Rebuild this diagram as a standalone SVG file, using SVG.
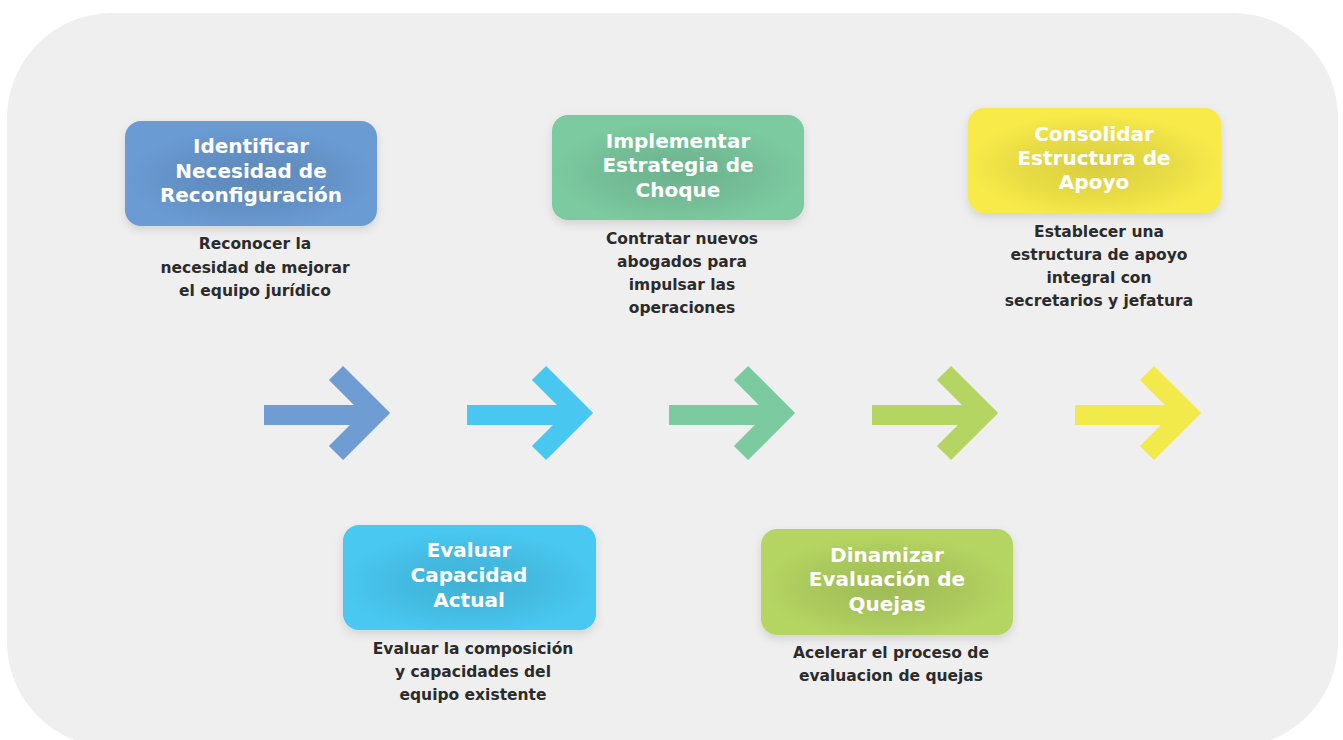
<svg xmlns="http://www.w3.org/2000/svg" width="1343" height="740" viewBox="0 0 1343 740">
<defs>
<style>
.t{font-family:"DejaVu Sans","Noto Sans",sans-serif;font-weight:700;font-size:20px;fill:#ffffff;text-anchor:middle}
.d{font-family:"DejaVu Sans","Noto Sans",sans-serif;font-weight:700;font-size:15.5px;fill:#2b2b2b;text-anchor:middle}
.arr{fill:none;stroke-width:20;stroke-linejoin:miter;stroke-linecap:butt}
</style>
<radialGradient id="shade" cx="0.5" cy="0.55" r="0.5">
<stop offset="0" stop-color="#000" stop-opacity="0.12"/>
<stop offset="0.6" stop-color="#000" stop-opacity="0.06"/>
<stop offset="1" stop-color="#000" stop-opacity="0"/>
</radialGradient>
<filter id="sh" x="-20%" y="-20%" width="140%" height="160%">
<feDropShadow dx="0" dy="4" stdDeviation="5" flood-color="#000" flood-opacity="0.12"/>
</filter>
</defs>
<rect x="0" y="0" width="1343" height="740" fill="#ffffff"/>
<rect x="7" y="13" width="1331" height="734" rx="105" ry="105" fill="#efefef"/>

<g id="connectors">
<g stroke="#6f9dd3"><path class="arr" d="M264,415 H368"/><path class="arr" d="M336,373 L376,413 L336,453"/></g>
<g stroke="#48c8f1"><path class="arr" d="M467,415 H571"/><path class="arr" d="M539,373 L579,413 L539,453"/></g>
<g stroke="#7ccba0"><path class="arr" d="M669,415 H773"/><path class="arr" d="M741,373 L781,413 L741,453"/></g>
<g stroke="#b5d562"><path class="arr" d="M872,415 H976"/><path class="arr" d="M944,373 L984,413 L944,453"/></g>
<g stroke="#f2ea4b"><path class="arr" d="M1075,415 H1179"/><path class="arr" d="M1147,373 L1187,413 L1147,453"/></g>
</g>

<g id="node1">
<rect x="125" y="121" width="252" height="105" rx="16" fill="#6b9bd3" filter="url(#sh)"/>
<rect x="125" y="121" width="252" height="105" rx="16" fill="url(#shade)"/>
<text class="t" x="251" y="153">Identificar</text>
<text class="t" x="251" y="178">Necesidad de</text>
<text class="t" x="251" y="202">Reconfiguración</text>
<text class="d" x="255" y="249">Reconocer la</text>
<text class="d" x="255" y="273">necesidad de mejorar</text>
<text class="d" x="255" y="296">el equipo jurídico</text>
</g>

<g id="node2">
<rect x="552" y="115" width="252" height="105" rx="16" fill="#7ccaa0" filter="url(#sh)"/>
<rect x="552" y="115" width="252" height="105" rx="16" fill="url(#shade)"/>
<text class="t" x="678" y="148">Implementar</text>
<text class="t" x="678" y="172">Estrategia de</text>
<text class="t" x="678" y="197">Choque</text>
<text class="d" x="682" y="244">Contratar nuevos</text>
<text class="d" x="682" y="267">abogados para</text>
<text class="d" x="682" y="290">impulsar las</text>
<text class="d" x="682" y="313">operaciones</text>
</g>

<g id="node3">
<rect x="968" y="108" width="253" height="105" rx="16" fill="#f7ea4a" filter="url(#sh)"/>
<rect x="968" y="108" width="253" height="105" rx="16" fill="url(#shade)"/>
<text class="t" x="1094" y="141">Consolidar</text>
<text class="t" x="1094" y="165">Estructura de</text>
<text class="t" x="1094" y="189">Apoyo</text>
<text class="d" x="1099" y="237">Establecer una</text>
<text class="d" x="1099" y="260">estructura de apoyo</text>
<text class="d" x="1099" y="283">integral con</text>
<text class="d" x="1099" y="306">secretarios y jefatura</text>
</g>

<g id="node4">
<rect x="343" y="525" width="253" height="105" rx="16" fill="#48c8f1" filter="url(#sh)"/>
<rect x="343" y="525" width="253" height="105" rx="16" fill="url(#shade)"/>
<text class="t" x="469" y="557">Evaluar</text>
<text class="t" x="469" y="582">Capacidad</text>
<text class="t" x="469" y="607">Actual</text>
<text class="d" x="473" y="654">Evaluar la composición</text>
<text class="d" x="473" y="677">y capacidades del</text>
<text class="d" x="473" y="700">equipo existente</text>
</g>

<g id="node5">
<rect x="761" y="529" width="252" height="106" rx="16" fill="#b5d562" filter="url(#sh)"/>
<rect x="761" y="529" width="252" height="106" rx="16" fill="url(#shade)"/>
<text class="t" x="887" y="562">Dinamizar</text>
<text class="t" x="887" y="586">Evaluación de</text>
<text class="t" x="887" y="611">Quejas</text>
<text class="d" x="891" y="658">Acelerar el proceso de</text>
<text class="d" x="891" y="681">evaluacion de quejas</text>
</g>
</svg>
